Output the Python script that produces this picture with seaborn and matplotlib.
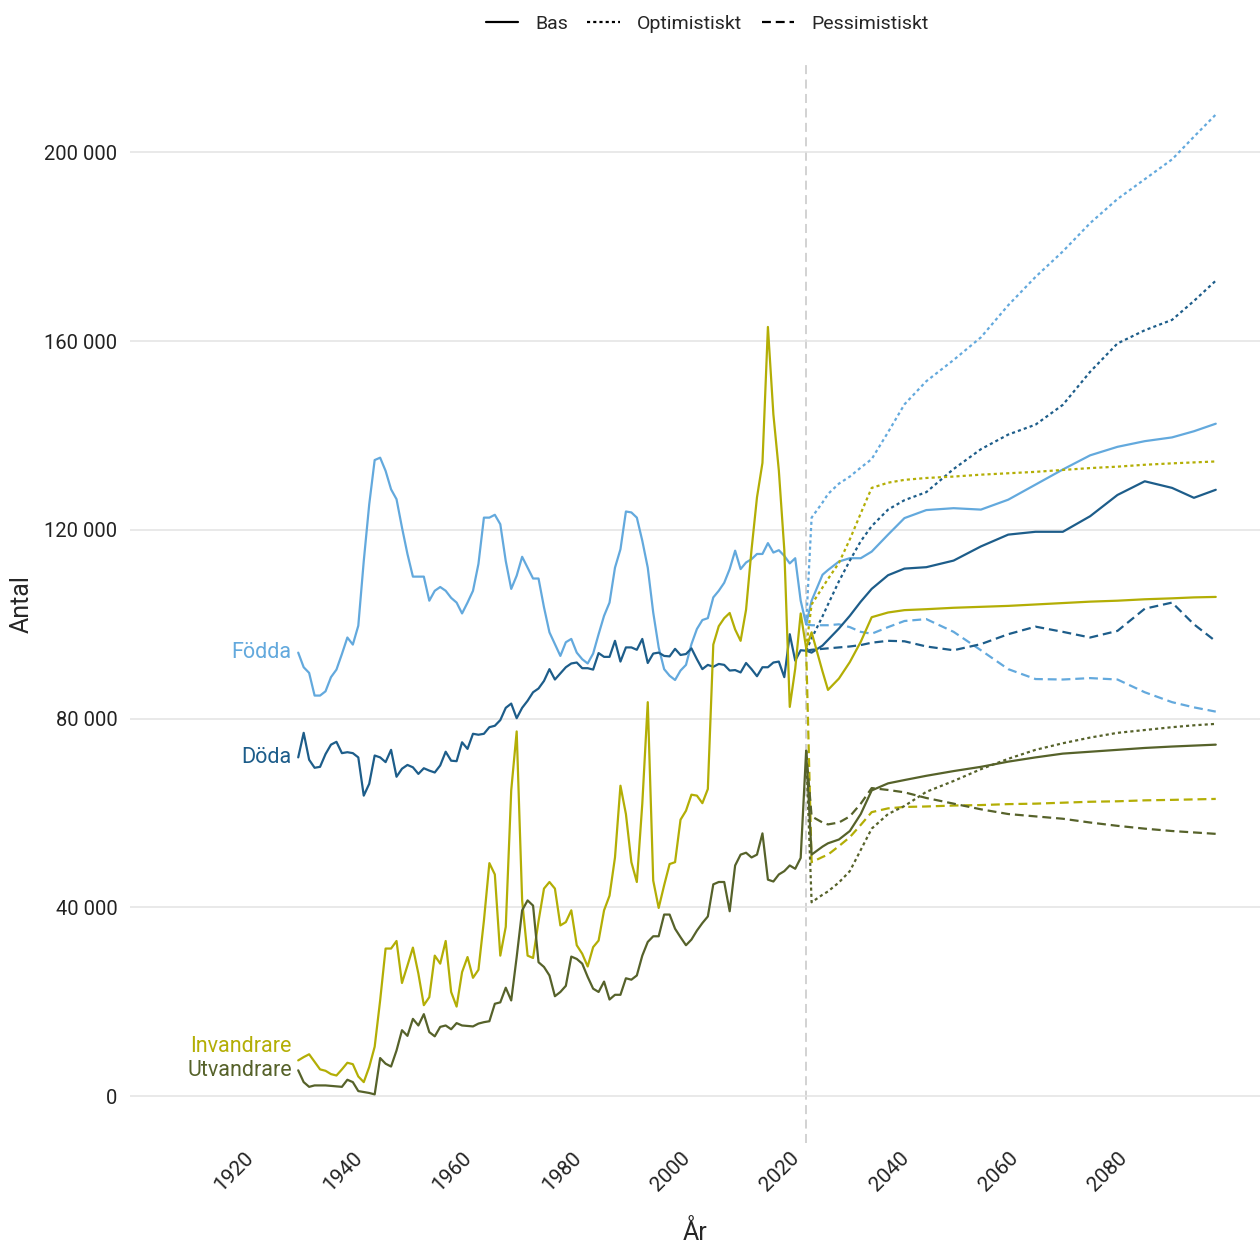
import numpy as np
import pandas as pd
import matplotlib
matplotlib.use("Agg")
import matplotlib.pyplot as plt
import seaborn as sns
from matplotlib.lines import Line2D

# ---------------- data (thousands) ----------------
hist_years = list(range(1930, 2024))

fodda = [94.0, 90.9, 89.7, 84.9, 84.9, 85.8, 88.8, 90.4, 93.7, 97.2,
         95.7, 99.7, 113.4, 125.4, 134.8, 135.3, 132.5, 128.6, 126.5, 120.5,
         114.9, 110.1, 110.1, 110.1, 105.0, 107.1, 107.9, 107.1, 105.6, 104.6,
         102.3, 104.6, 107.1, 112.8, 122.6, 122.6, 123.2, 121.2, 113.4, 107.5,
         110.3, 114.3, 112.0, 109.7, 109.7, 103.6, 98.3, 95.8, 93.3, 96.2,
         96.9, 94.0, 92.6, 91.7, 93.8, 97.9, 101.8, 104.6, 112.0, 115.9,
         123.9, 123.7, 122.6, 117.7, 112.0, 102.5, 95.1, 90.5, 89.1, 88.2,
         90.2, 91.4, 95.8, 99.0, 100.9, 101.3, 105.7, 107.1, 108.8, 111.7,
         115.6, 111.7, 113.1, 113.8, 114.9, 114.9, 117.2, 115.2, 115.7, 114.5,
         112.9, 114.0, 105.0, 100.0]

doda = [71.8, 77.0, 71.3, 69.6, 69.8, 72.5, 74.5, 75.1, 72.7, 72.9,
        72.7, 71.8, 63.7, 66.2, 72.2, 71.8, 70.8, 73.4, 67.7, 69.4,
        70.2, 69.7, 68.3, 69.5, 69.0, 68.6, 70.1, 73.0, 71.1, 71.0,
        75.0, 73.6, 76.8, 76.6, 76.8, 78.2, 78.5, 79.7, 82.3, 83.2,
        80.1, 82.3, 83.8, 85.6, 86.4, 88.0, 90.5, 88.3, 89.6, 90.9,
        91.7, 91.9, 90.7, 90.7, 90.4, 93.9, 93.1, 93.1, 96.5, 92.1,
        95.1, 95.1, 94.6, 96.9, 91.8, 93.8, 94.0, 93.3, 93.2, 94.8,
        93.5, 93.7, 94.9, 92.6, 90.5, 91.4, 91.0, 91.6, 91.4, 90.2,
        90.3, 89.8, 91.8, 90.5, 89.0, 90.9, 90.9, 91.9, 92.1, 88.8,
        97.9, 92.3, 94.5, 94.4]

invandrare = [7.6, 8.3, 8.9, 7.3, 5.7, 5.4, 4.7, 4.4, 5.7, 7.1,
              6.8, 4.2, 3.0, 6.2, 10.5, 20.3, 31.3, 31.3, 32.9, 24.0,
              27.7, 31.5, 26.0, 19.3, 21.0, 29.8, 28.1, 32.9, 22.1, 19.0,
              26.3, 29.5, 25.1, 26.8, 37.2, 49.4, 47.0, 29.8, 35.9, 64.8,
              77.3, 41.5, 29.8, 29.3, 37.1, 44.0, 45.4, 44.0, 36.2, 36.9,
              39.4, 32.0, 30.2, 27.5, 31.6, 33.0, 39.4, 42.5, 50.6, 65.8,
              59.8, 49.6, 45.4, 62.0, 83.5, 45.7, 39.9, 44.7, 49.2, 49.6,
              58.6, 60.5, 63.9, 63.7, 62.1, 65.1, 95.7, 99.6, 101.3, 102.4,
              98.9, 96.5, 103.1, 115.8, 126.9, 134.2, 163.0, 144.5, 132.6, 115.8,
              82.5, 90.6, 102.3, 95.0]

utvandrare = [5.5, 3.0, 2.0, 2.3, 2.3, 2.3, 2.2, 2.1, 2.0, 3.5,
              3.0, 1.1, 0.9, 0.7, 0.4, 8.1, 6.9, 6.3, 9.7, 14.0,
              12.8, 16.4, 15.0, 17.4, 13.6, 12.7, 14.7, 15.0, 14.2, 15.5,
              15.0, 14.9, 14.8, 15.4, 15.7, 15.9, 19.6, 19.9, 23.0, 20.3,
              29.5, 39.4, 41.5, 40.4, 28.4, 27.4, 25.6, 21.2, 22.1, 23.4,
              29.6, 29.1, 28.1, 25.3, 22.8, 22.1, 24.3, 20.5, 21.5, 21.5,
              25.0, 24.7, 25.6, 29.8, 32.7, 33.9, 33.9, 38.5, 38.5, 35.5,
              33.7, 32.0, 33.2, 35.1, 36.7, 38.1, 44.9, 45.4, 45.4, 39.2,
              48.9, 51.2, 51.6, 50.6, 51.2, 55.7, 45.9, 45.5, 47.0, 47.7,
              48.9, 48.2, 50.5, 73.2]

proj_years = [2023, 2024, 2026, 2027, 2029, 2031, 2033, 2035, 2038, 2041, 2045,
              2050, 2055, 2060, 2065, 2070, 2075, 2080, 2085, 2090, 2094, 2098]

fodda_bas = [100.0, 105.0, 110.5, 111.5, 113.3, 114.0, 114.0, 115.4, 119.0, 122.5, 124.2,
             124.6, 124.3, 126.4, 129.6, 132.8, 135.8, 137.6, 138.8, 139.6, 140.9, 142.5]
fodda_opt = [100.0, 122.6, 125.8, 127.6, 129.8, 131.3, 133.2, 135.0, 140.7, 146.6, 151.5,
             156.0, 160.8, 167.6, 173.6, 179.0, 185.0, 190.1, 194.3, 198.5, 203.3, 208.0]
fodda_pess = [100.0, 99.8, 99.8, 99.8, 100.0, 99.4, 98.4, 98.0, 99.4, 100.7, 101.1,
              98.4, 94.5, 90.5, 88.4, 88.3, 88.6, 88.3, 85.6, 83.5, 82.4, 81.5]

doda_bas = [94.4, 94.0, 95.5, 96.7, 99.1, 101.8, 104.8, 107.5, 110.4, 111.8, 112.1,
            113.5, 116.5, 119.0, 119.6, 119.6, 122.9, 127.4, 130.3, 128.9, 126.8, 128.5]
doda_opt = [94.4, 97.0, 101.7, 104.2, 109.1, 113.5, 117.6, 120.8, 124.3, 126.3, 128.0,
            132.9, 137.1, 140.2, 142.3, 146.5, 153.5, 159.5, 162.3, 164.5, 168.5, 172.8]
doda_pess = [94.4, 94.6, 94.8, 94.9, 95.1, 95.3, 95.6, 96.1, 96.5, 96.4, 95.3,
             94.5, 95.8, 97.9, 99.5, 98.4, 97.2, 98.6, 103.3, 104.6, 100.0, 96.4]

inv_bas = [95.0, 98.3, 90.0, 86.1, 88.5, 92.0, 96.3, 101.5, 102.5, 103.0, 103.2,
           103.5, 103.7, 103.9, 104.2, 104.5, 104.8, 105.0, 105.3, 105.5, 105.7, 105.8]
inv_opt = [95.0, 104.2, 107.8, 109.6, 113.0, 118.0, 123.5, 128.9, 130.0, 130.6, 131.0,
           131.3, 131.7, 132.0, 132.3, 132.7, 133.1, 133.4, 133.8, 134.1, 134.3, 134.5]
inv_pess = [95.0, 49.6, 50.7, 51.2, 53.0, 54.9, 57.5, 60.2, 61.0, 61.3, 61.4,
            61.6, 61.7, 61.9, 62.0, 62.2, 62.4, 62.5, 62.7, 62.8, 62.9, 63.0]

utv_bas = [73.2, 51.2, 52.9, 53.6, 54.4, 56.2, 59.8, 64.8, 66.3, 67.0, 67.9,
           68.9, 69.8, 70.9, 71.8, 72.6, 73.0, 73.4, 73.8, 74.1, 74.3, 74.5]
utv_opt = [73.2, 41.1, 42.7, 43.4, 45.3, 47.7, 52.2, 56.7, 59.8, 61.5, 64.5,
           66.8, 69.3, 71.5, 73.4, 74.8, 76.0, 77.0, 77.6, 78.2, 78.6, 78.9]
utv_pess = [73.2, 59.3, 58.0, 57.6, 58.0, 59.3, 62.0, 65.3, 64.9, 64.4, 63.2,
            62.0, 60.8, 59.8, 59.3, 58.8, 58.0, 57.3, 56.7, 56.2, 55.9, 55.6]

series_names = ["Födda", "Döda", "Invandrare", "Utvandrare"]
scenario_names = ["Bas", "Optimistiskt", "Pessimistiskt"]
y_ticks = [0, 40000, 80000, 120000, 160000, 200000]
y_ticklabels = ["0", "40 000", "80 000", "120 000", "160 000", "200 000"]
x_ticks = [1920, 1940, 1960, 1980, 2000, 2020, 2040, 2060, 2080]

# ---------------- styling ----------------
colors = {"Födda": "#63a9dd", "Döda": "#1d5d8a",
          "Invandrare": "#b3ae05", "Utvandrare": "#56622a"}
styles = {"Bas": "-", "Optimistiskt": (0, (1.4, 1.4)), "Pessimistiskt": (0, (4, 2.2))}

hist = {"Födda": fodda, "Döda": doda, "Invandrare": invandrare, "Utvandrare": utvandrare}
proj = {
    "Födda": {"Bas": fodda_bas, "Optimistiskt": fodda_opt, "Pessimistiskt": fodda_pess},
    "Döda": {"Bas": doda_bas, "Optimistiskt": doda_opt, "Pessimistiskt": doda_pess},
    "Invandrare": {"Bas": inv_bas, "Optimistiskt": inv_opt, "Pessimistiskt": inv_pess},
    "Utvandrare": {"Bas": utv_bas, "Optimistiskt": utv_opt, "Pessimistiskt": utv_pess},
}

sns.set_theme(style="white")
plt.rcParams["font.family"] = ["Roboto", "DejaVu Sans"]

fig = plt.figure(figsize=(12.6, 12.53), dpi=100)
ax = fig.add_axes([130 / 1260, 110 / 1253, 1130 / 1260, 1078 / 1253])

lw = 1.6
for name in series_names:
    df = pd.DataFrame({"År": hist_years, "Antal": np.array(hist[name]) * 1000})
    sns.lineplot(data=df, x="År", y="Antal", ax=ax, color=colors[name], lw=lw)
    for sc in scenario_names:
        dfp = pd.DataFrame({"År": proj_years, "Antal": np.array(proj[name][sc]) * 1000})
        sns.lineplot(data=dfp, x="År", y="Antal", ax=ax, color=colors[name],
                     lw=lw, linestyle=styles[sc])

ax.axvline(2023, color="#cfcfcf", lw=1.3, ls=(0, (5, 3)), zorder=0)

# direct labels
lab_pos = {"Födda": 94000, "Döda": 71700, "Invandrare": 10600, "Utvandrare": 5500}
for name in series_names:
    ax.text(1928.8, lab_pos[name], name, color=colors[name], ha="right",
            va="center", fontsize=15.5)

ax.set_xlim(1899.2, 2106.1)
ax.set_ylim(-9900, 218500)
ax.set_yticks(y_ticks)
ax.set_yticklabels(y_ticklabels, fontsize=14.5, color="#222222")
ax.set_xticks(x_ticks)
ax.set_xticklabels([str(t) for t in x_ticks], fontsize=15, color="#222222",
                   rotation=45, ha="right", va="top", rotation_mode="anchor")
ax.tick_params(axis="both", length=0)
ax.tick_params(axis="y", pad=9)
ax.tick_params(axis="x", pad=4)
ax.grid(axis="y", color="#e3e3e3", lw=1.1)
ax.grid(axis="x", visible=False)
for s in ax.spines.values():
    s.set_visible(False)
ax.set_xlabel("År", fontsize=18, labelpad=18)
ax.set_ylabel("Antal", fontsize=18, labelpad=8)

handles = [Line2D([0], [0], color="black", lw=1.6, linestyle=styles[sc]) for sc in scenario_names]
fig.legend(handles, scenario_names, loc="center", bbox_to_anchor=(707 / 1260, 1 - 24 / 1253),
           ncol=3, frameon=False, fontsize=14, handlelength=1.65, columnspacing=1.0,
           handletextpad=0.9)

fig.savefig("out.png", dpi=100)
